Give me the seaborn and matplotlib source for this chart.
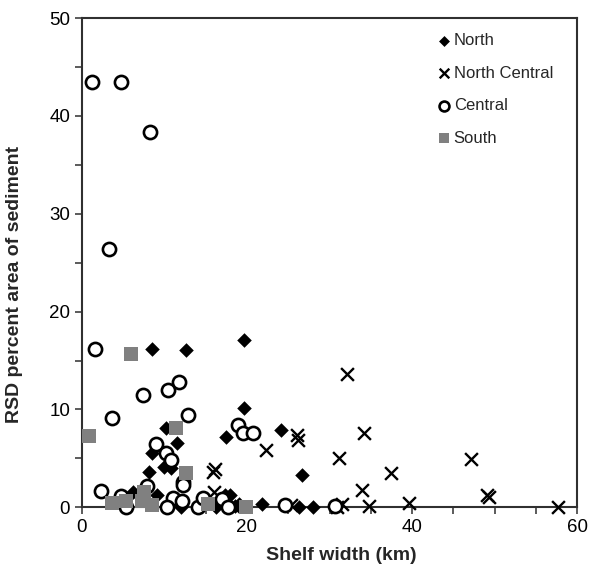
import seaborn as sns
import matplotlib.pyplot as plt
from matplotlib.ticker import MultipleLocator
import pandas as pd

# values
north_x = [8.5, 12.6, 19.6, 19.6, 17.5, 10.2, 11.5, 8.5, 9.9, 10.8, 8.1, 6.2, 9.1, 12.0,
           16.3, 17.3, 19.0, 21.8, 24.1, 26.7, 26.3, 28.0, 17.9, 18.5]
north_y = [16.2, 16.1, 17.1, 10.1, 7.2, 8.1, 6.6, 5.5, 4.1, 4.0, 3.6, 1.6, 1.3, 0.0,
           0.0, 1.3, 0.3, 0.3, 7.9, 3.3, 0.0, 0.0, 1.3, 0.1]

ncentral_x = [32.1, 22.3, 26.0, 26.2, 34.2, 31.2, 37.5, 33.9, 47.1, 49.1, 49.3, 39.6, 34.8,
              31.5, 30.9, 25.3, 57.7, 15.9, 16.1, 16.0, 18.3]
ncentral_y = [13.6, 5.8, 7.4, 6.9, 7.6, 5.0, 3.5, 1.8, 4.9, 1.2, 1.0, 0.4, 0.1,
              0.3, 0.0, 0.2, 0.0, 3.6, 3.9, 1.6, 0.1]

central_x = [1.2, 4.8, 8.2, 3.3, 1.6, 3.6, 7.4, 10.4, 11.8, 12.8, 9.0, 10.2, 10.8, 12.2,
             12.3, 7.9, 2.3, 4.8, 5.3, 11.0, 10.3, 12.1, 14.1, 14.7, 17.0, 17.7, 18.9,
             19.5, 20.7, 24.6, 30.7]
central_y = [43.5, 43.5, 38.4, 26.4, 16.2, 9.1, 11.5, 12.0, 12.8, 9.4, 6.5, 5.5, 4.8, 2.6,
             2.3, 2.2, 1.7, 1.1, 0.0, 0.9, 0.0, 0.6, 0.0, 0.9, 0.8, 0.0, 8.4,
             7.6, 7.6, 0.2, 0.1]

south_x = [5.9, 0.9, 11.4, 12.6, 3.6, 5.3, 7.5, 7.3, 8.5, 15.3, 19.9]
south_y = [15.7, 7.3, 8.1, 3.5, 0.4, 0.6, 1.6, 0.6, 0.2, 0.3, 0.0]

sns.set_style("ticks")
plt.rcParams['font.family'] = ['Liberation Sans', 'DejaVu Sans']

fig, ax = plt.subplots(figsize=(5.89, 5.68), dpi=100)
fig.subplots_adjust(left=0.139, right=0.980, top=0.968, bottom=0.107)

# Excel-like series order: later series drawn on top
sns.scatterplot(x=north_x, y=north_y, ax=ax, marker="D", s=55, color="black",
                edgecolor="black", linewidth=0, label="North", clip_on=False, zorder=3)
sns.scatterplot(x=ncentral_x, y=ncentral_y, ax=ax, marker="x", s=85, color="black",
                linewidth=1.7, label="North Central", clip_on=False, zorder=4)
sns.scatterplot(x=central_x, y=central_y, ax=ax, marker="o", s=90, facecolor="white",
                edgecolor="black", linewidth=1.9, label="Central", clip_on=False, zorder=5)
sns.scatterplot(x=south_x, y=south_y, ax=ax, marker="s", s=95, color="#808080",
                edgecolor="#808080", linewidth=0, label="South", clip_on=False, zorder=6)

ax.set_xlim(0, 60)
ax.set_ylim(0, 50)
ax.xaxis.set_major_locator(MultipleLocator(20))
ax.xaxis.set_minor_locator(MultipleLocator(5))
ax.yaxis.set_major_locator(MultipleLocator(10))
ax.yaxis.set_minor_locator(MultipleLocator(5))
ax.tick_params(which="both", direction="out", length=5, width=1.2, colors="#404040",
               labelcolor="black", labelsize=13.5)
for side in ax.spines.values():
    side.set_linewidth(1.5)
    side.set_color("#303030")

ax.set_xlabel("Shelf width (km)", fontsize=14, fontweight="bold")
ax.set_ylabel("RSD percent area of sediment", fontsize=14, fontweight="bold")
ax.xaxis.set_label_coords(0.523, -0.082)
ax.yaxis.set_label_coords(-0.118, 0.455)

ax.legend(loc="upper left", bbox_to_anchor=(0.68, 1.0), frameon=False,
          fontsize=12, handletextpad=0.0, labelspacing=1.05, handlelength=1.2,
          markerscale=0.75)

plt.savefig("out.png", dpi=100)
